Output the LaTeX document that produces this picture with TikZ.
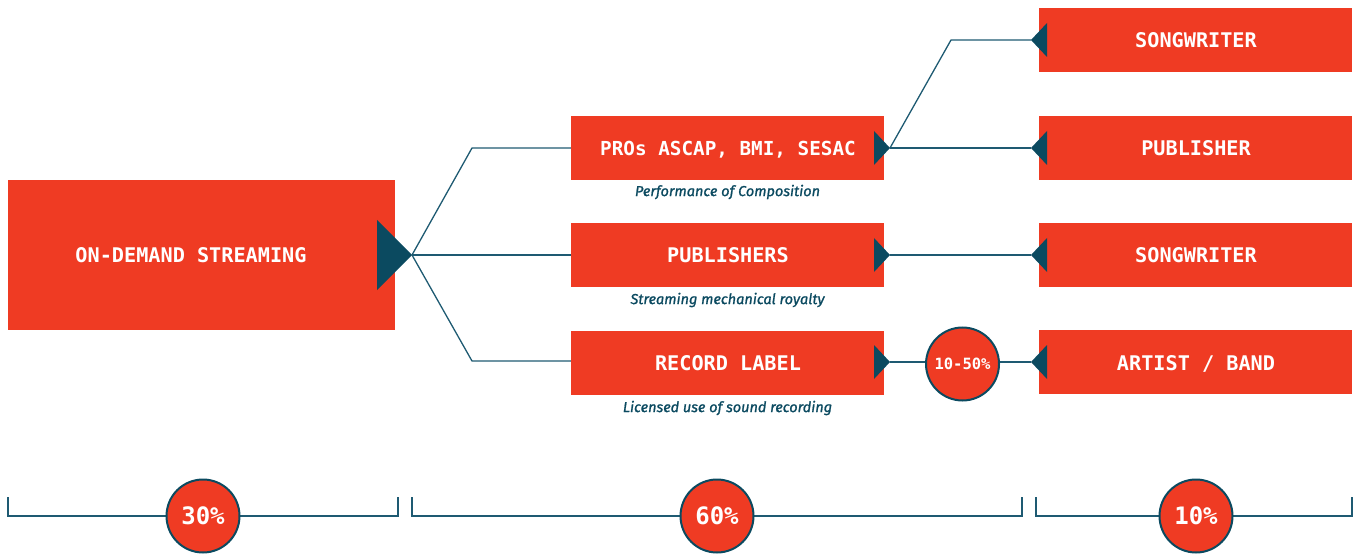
\documentclass[tikz,border=0pt]{standalone}
\usepackage{fontspec}
\usetikzlibrary{calc}
\setmonofont{DejaVu Sans Mono}
\newfontfamily\capfont[FakeBold=1.2]{Fira Sans}
\definecolor{redc}{HTML}{EF3B23}
\definecolor{tealc}{HTML}{0B4A60}
\definecolor{linec}{HTML}{1E5A72}
\begin{document}
\begin{tikzpicture}[x=1bp,y=-1bp,
  box/.style={fill=redc,draw=none,text=white,font=\ttfamily\bfseries\fontsize{20.2bp}{22bp}\selectfont,inner sep=0pt},
  bigbox/.style={box,minimum width=387bp,minimum height=150bp},
  midbox/.style={box,minimum width=313bp,minimum height=64bp},
  lbl/.style={text=white,font=\ttfamily\bfseries\fontsize{20.2bp}{22bp}\selectfont,inner sep=0pt,anchor=base},
  pct/.style={circle,fill=redc,draw=tealc,line width=2bp,text=white,minimum size=73bp,inner sep=0pt,font=\ttfamily\bfseries\fontsize{24bp}{25bp}\selectfont},
  smallpct/.style={pct,font=\ttfamily\bfseries\fontsize{15.5bp}{17bp}\selectfont},
  caption/.style={text=tealc,font=\capfont\itshape\fontsize{14.5bp}{16bp}\selectfont,inner sep=0pt},
  conn/.style={draw=linec,line width=1.3bp},
  tri/.style={fill=tealc,draw=none}]
\useasboundingbox (0,0) rectangle (1356,554);

% boxes
\node[bigbox] (stream) at (201.5,255) {};
\node[midbox] (pros) at (727.5,148) {};
\node[midbox] (pubs) at (727.5,255) {};
\node[midbox] (label) at (727.5,362.5) {};
\node[midbox] (sw1) at (1195.5,40) {};
\node[midbox] (pub) at (1195.5,148) {};
\node[midbox] (sw2) at (1195.5,255) {};
\node[midbox] (artist) at (1195.5,362) {};

% box texts
\node[lbl] (tstream) at (191,263) {ON-DEMAND STREAMING};
\node[lbl,font=\ttfamily\bfseries\fontsize{19.3bp}{21bp}\selectfont] (tpros) at (728,156) {PROs ASCAP, BMI, SESAC};
\node[lbl] (tpubs) at (728,263) {PUBLISHERS};
\node[lbl] (tlabel) at (728,370.5) {RECORD LABEL};
\node[lbl] (tsw1) at (1196,48) {SONGWRITER};
\node[lbl] (tpub) at (1196,156) {PUBLISHER};
\node[lbl] (tsw2) at (1196,263) {SONGWRITER};
\node[lbl] (tartist) at (1196,370) {ARTIST / BAND};

% captions
\node[caption] (c1) at (727.5,192) {Performance of Composition};
\node[caption] (c2) at (727.5,300) {Streaming mechanical royalty};
\node[caption] (c3) at (727.5,408) {Licensed use of sound recording};

% connector points
\coordinate (t0) at (412,255);
\coordinate (e1) at (472,148);
\coordinate (e2) at (472,361);
\coordinate (tp) at (890,148);
\coordinate (tb) at (890,255);
\coordinate (tl) at (890,362);
\coordinate (e3) at (951,40);
\coordinate (a1) at (1031,40);
\coordinate (a2) at (1031,148);
\coordinate (a3) at (1031,255);
\coordinate (a4) at (1031,362);

% connectors
\draw[conn] (t0) -- (e1) -- (e1 -| pros.west);
\draw[conn] (t0) -- (pubs.west |- t0);
\draw[conn] (t0) -- (e2) -- (e2 -| label.west);
\draw[conn] (tp) -- (e3) -- (a1);
\draw[conn] (tp) -- (a2);
\draw[conn] (tb) -- (a3);
\draw[conn] (tl) -- (a4);

\node[smallpct] (p1050) at (962.5,364) {10-50\%};

% triangles
\fill[tri] (377,220) -- (t0) -- (377,290) -- cycle;
\foreach \c in {tp,tb,tl}{
  \fill[tri] ($(\c)+(-16,-17)$) -- (\c) -- ($(\c)+(-16,17)$) -- cycle;
}
\foreach \c in {a1,a2,a3,a4}{
  \fill[tri] ($(\c)+(16,-17)$) -- (\c) -- ($(\c)+(16,17)$) -- cycle;
}

% bottom brackets
\coordinate (b1l) at (8,497); \coordinate (b1r) at (398,497);
\coordinate (b2l) at (412,497); \coordinate (b2r) at (1022,497);
\coordinate (b3l) at (1036,497); \coordinate (b3r) at (1352,497);
\draw[conn] (b1l) -- ++(0,19) -| (b1r);
\draw[conn] (b2l) -- ++(0,19) -| (b2r);
\draw[conn] (b3l) -- ++(0,19) -| (b3r);
\node[pct] (p30) at (203,516) {30\%};
\node[pct] (p60) at (717,516) {60\%};
\node[pct] (p10) at (1196,516) {10\%};
\end{tikzpicture}
\end{document}
